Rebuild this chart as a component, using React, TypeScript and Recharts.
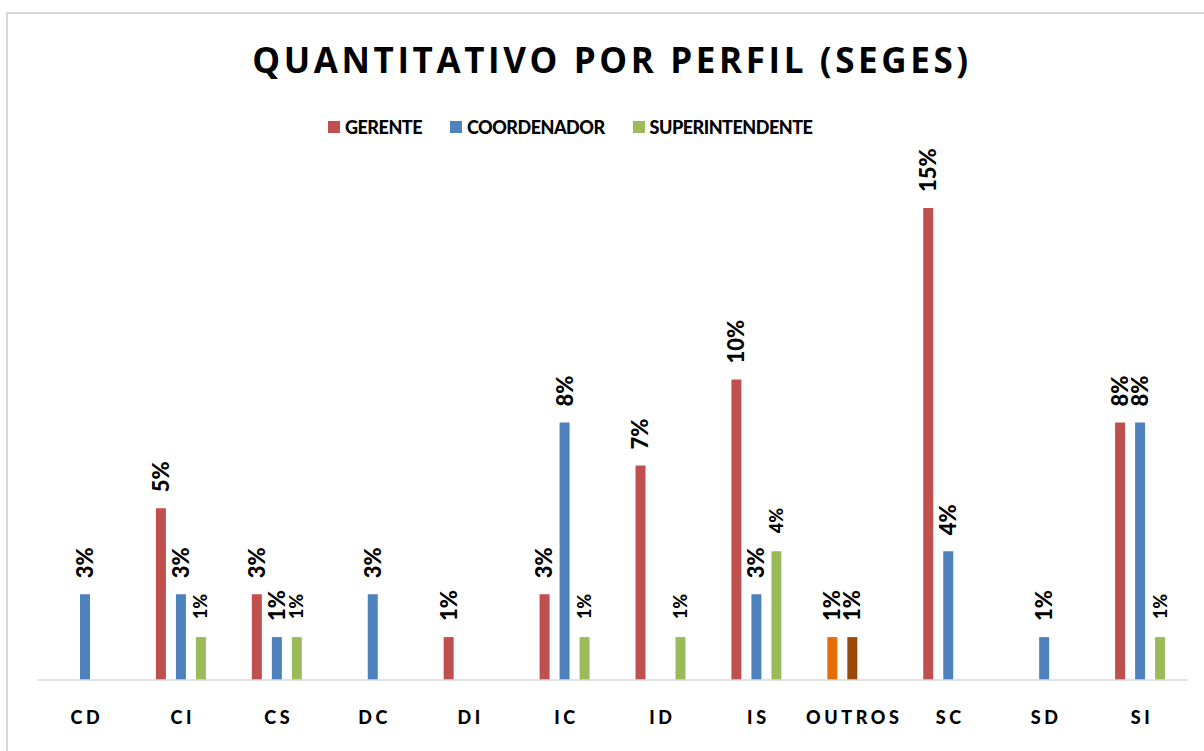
import React from "react"
import { BarChart, Bar, XAxis, YAxis, Legend, LabelList, Cell } from "recharts"

const categories = ["CD", "CI", "CS", "DC", "DI", "IC", "ID", "IS", "OUTROS", "SC", "SD", "SI"]
const gerente = [null, 4, 2, null, 1, 2, 5, 7, 1, 11, null, 6]
const coordenador = [2, 2, 1, 2, null, 6, null, 2, 1, 3, 1, 6]
const superintendente = [null, 1, 1, null, null, 1, 1, 3, null, null, null, 1]

const seriesNames = ["GERENTE", "COORDENADOR", "SUPERINTENDENTE"]
const colors = ["#C0504D", "#4F81BD", "#9BBB59"]
// single points recoloured in the source sheet
const outrosColors: Record<string, string> = { gerente: "#E46C0A", coordenador: "#984807" }

const total = [...gerente, ...coordenador, ...superintendente].reduce((s: number, v) => s + (v ?? 0), 0)

const data = categories.map((name, i) => ({
    name,
    gerente: gerente[i],
    coordenador: coordenador[i],
    superintendente: superintendente[i],
}))

const W = 1204
const H = 751

function makeLabel(fontSize: number, gap: number) {
    return (props: any) => {
        const { x, y, width, value } = props
        if (value == null) return null
        const cx = Number(x) + Number(width) / 2 + fontSize * 0.36
        const ty = Number(y) - gap
        const pct = Math.round((Number(value) / total) * 100) + "%"
        return (
            <text
                x={cx}
                y={ty}
                transform={`rotate(-90, ${cx}, ${ty})`}
                textAnchor="start"
                fontFamily="Lato, sans-serif"
                fontWeight={900}
                fontSize={fontSize}
                fill="#000"
            >
                {pct}
            </text>
        )
    }
}

const CategoryTick = (props: any) => {
    const { x, payload } = props
    return (
        <text
            x={x + 2}
            y={724}
            textAnchor="middle"
            fontFamily="Lato, sans-serif"
            fontWeight={900}
            fontSize={18}
            letterSpacing={3.6}
            fill="#000"
        >
            {payload.value}
        </text>
    )
}

const LegendContent = () => (
    <div style={{ display: "flex", alignItems: "center", paddingLeft: 328, fontFamily: "Lato, sans-serif", fontWeight: 900, fontSize: 18, letterSpacing: -0.5, color: "#000", lineHeight: "20px" }}>
        {seriesNames.map((n, i) => (
            <div key={n} style={{ display: "flex", alignItems: "center", marginRight: 28 }}>
                <span style={{ display: "inline-block", width: 12, height: 12, background: colors[i], marginRight: 5 }} />
                <span>{n}</span>
            </div>
        ))}
    </div>
)

export default function App() {
    return (
        <div style={{ position: "absolute", left: 0, top: 0, width: W, height: H, background: "#fff" }}>
            <BarChart
                width={W}
                height={H}
                data={data}
                margin={{ top: 145, right: 16, left: 37, bottom: 41 }}
                barSize={10}
                barGap={10}
            >
                <XAxis
                    dataKey="name"
                    axisLine={{ stroke: "#D9D9D9", strokeWidth: 1.5 }}
                    tickLine={false}
                    tick={<CategoryTick />}
                    interval={0}
                    height={30}
                />
                <YAxis hide domain={[0, 12]} />
                <Legend
                    verticalAlign="top"
                    content={<LegendContent />}
                    wrapperStyle={{ position: "absolute", top: 117, left: 0, width: W }}
                />
                <Bar dataKey="gerente" name="GERENTE" fill={colors[0]} isAnimationActive={false}>
                    {data.map((d) => (
                        <Cell key={d.name} fill={d.name === "OUTROS" ? outrosColors.gerente : colors[0]} />
                    ))}
                    <LabelList dataKey="gerente" content={makeLabel(22, 16)} />
                </Bar>
                <Bar dataKey="coordenador" name="COORDENADOR" fill={colors[1]} isAnimationActive={false}>
                    {data.map((d) => (
                        <Cell key={d.name} fill={d.name === "OUTROS" ? outrosColors.coordenador : colors[1]} />
                    ))}
                    <LabelList dataKey="coordenador" content={makeLabel(22, 16)} />
                </Bar>
                <Bar dataKey="superintendente" name="SUPERINTENDENTE" fill={colors[2]} isAnimationActive={false}>
                    <LabelList dataKey="superintendente" content={makeLabel(18, 18)} />
                </Bar>
            </BarChart>
            <svg width={W} height={H} style={{ position: "absolute", left: 0, top: 0, pointerEvents: "none" }}>
                <rect x={7} y={13} width={W} height={H} fill="none" stroke="#D9D9D9" strokeWidth={2} />
                <text
                    x={612}
                    y={73}
                    textAnchor="middle"
                    fontFamily="'Open Sans', sans-serif"
                    fontWeight="bold"
                    fontSize={35}
                    letterSpacing={3.6}
                    fill="#000"
                >
                    QUANTITATIVO POR PERFIL (SEGES)
                </text>
            </svg>
        </div>
    )
}
